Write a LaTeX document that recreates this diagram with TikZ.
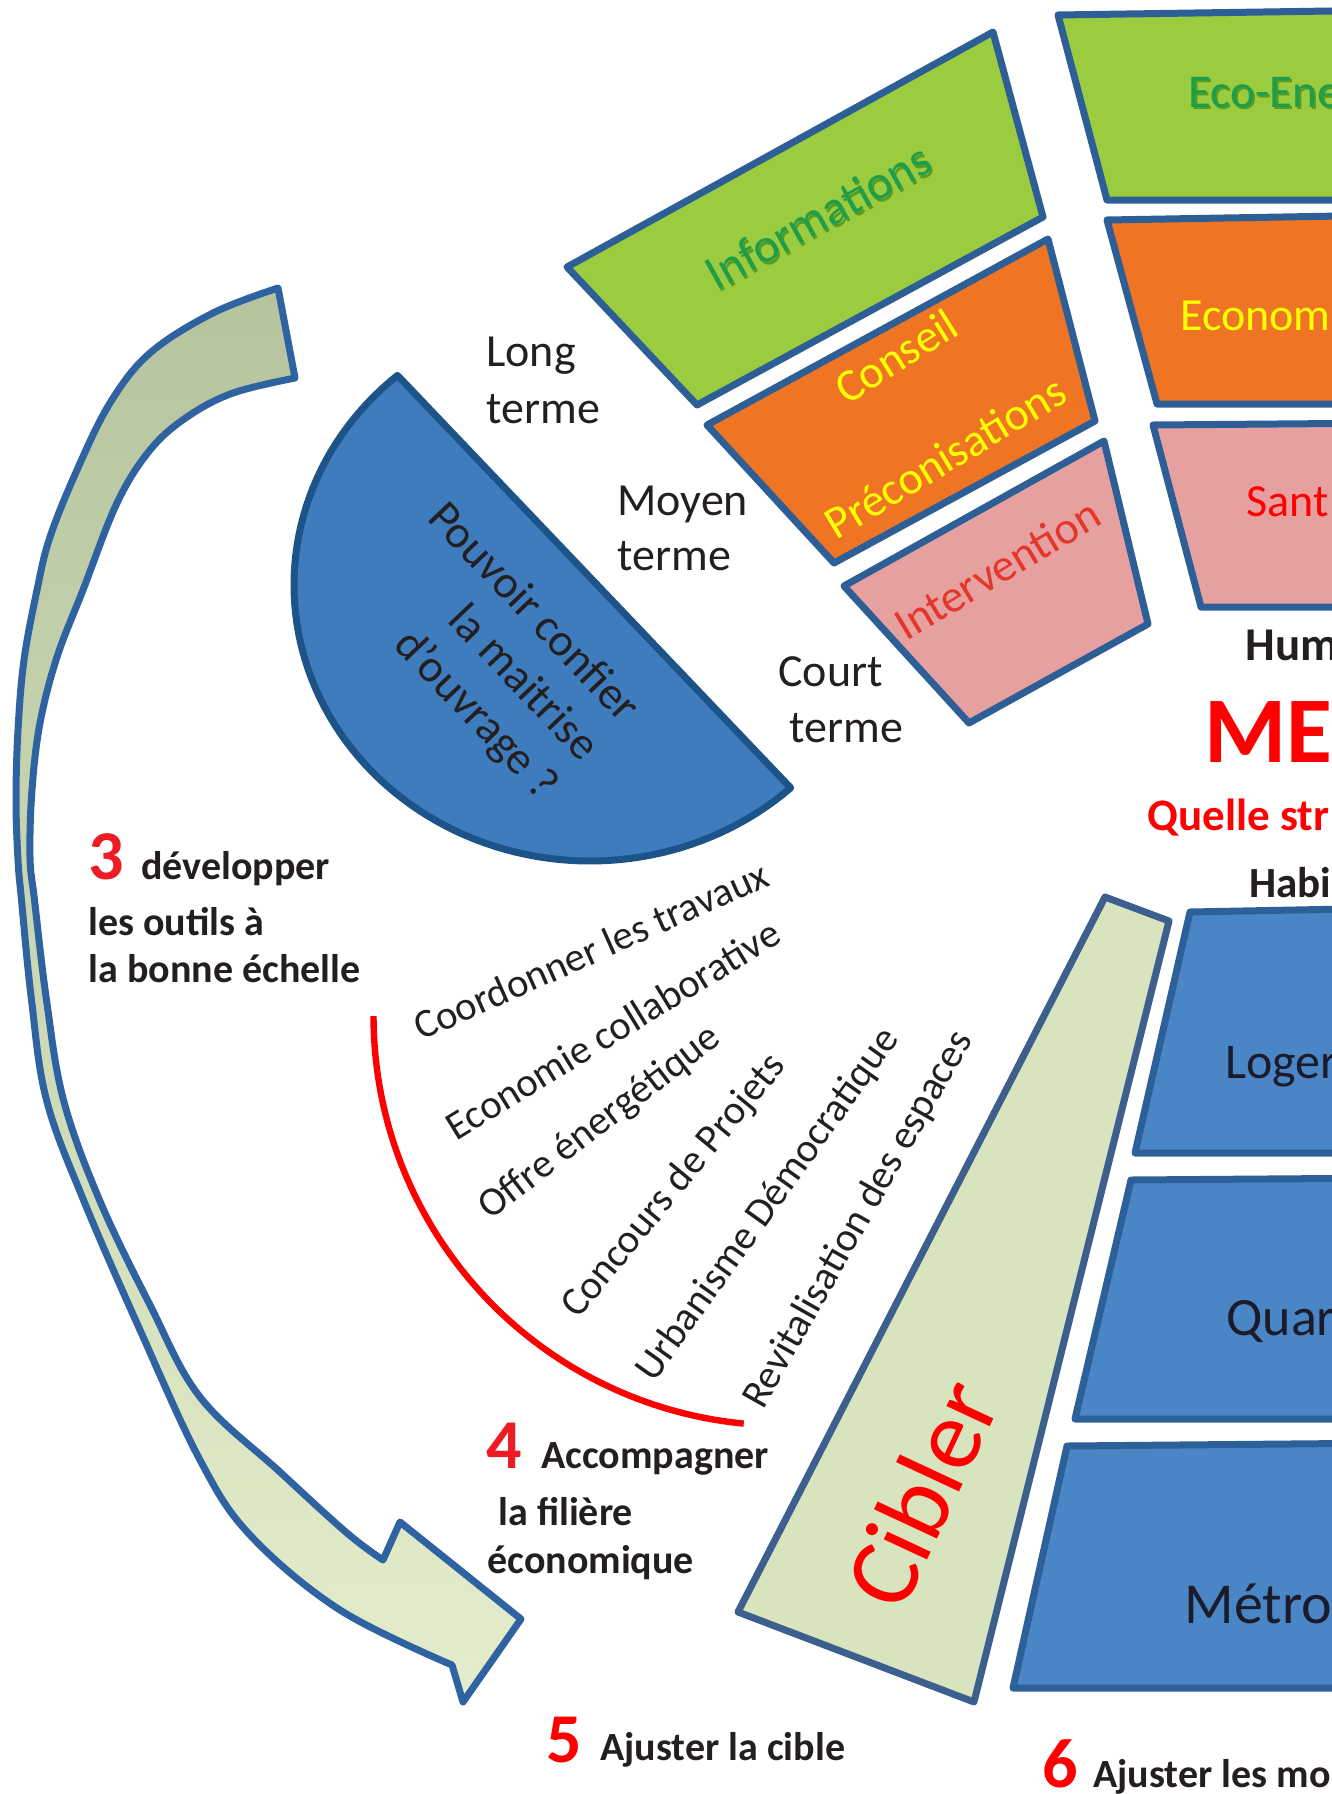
\documentclass[tikz,border=0pt]{standalone}
\usepackage{fontspec}
\setmainfont{Carlito}
\definecolor{bordblue}{RGB}{46,94,150}
\definecolor{limeF}{RGB}{155,203,63}
\definecolor{orangeF}{RGB}{239,116,35}
\definecolor{pinkF}{RGB}{230,160,159}
\definecolor{boxblue}{RGB}{74,134,198}
\definecolor{boxbord}{RGB}{45,96,152}
\definecolor{semiF}{RGB}{63,124,190}
\definecolor{semiB}{RGB}{28,83,137}
\definecolor{ciblerF}{RGB}{216,228,189}
\definecolor{ciblerB}{RGB}{61,95,142}
\definecolor{arrowtop}{RGB}{181,196,159}
\definecolor{arrowbot}{RGB}{228,237,203}
\definecolor{arrowB}{RGB}{47,98,160}
\definecolor{greenT}{RGB}{30,158,74}
\definecolor{yellowT}{RGB}{255,255,0}
\definecolor{redT}{RGB}{255,0,0}
\definecolor{intervT}{RGB}{229,54,44}
\definecolor{digitred}{RGB}{237,28,36}
\definecolor{darkT}{RGB}{35,31,32}
\definecolor{boxT}{RGB}{27,27,43}
\newcommand{\fsz}[2]{\fontsize{#1}{#2}\selectfont}
\tikzset{
  trap/.style={draw=bordblue, line width=3.5pt, line join=round},
  bluebox/.style={draw=boxbord, fill=boxblue, line width=3.5pt, line join=round},
  lbl/.style={inner sep=0pt, anchor=base west, text=darkT},
  rlbl/.style={inner sep=0pt, text=darkT},
  termfont/.style={font=\fsz{23pt}{28pt}},
  fanfont/.style={font=\fsz{20.3pt}{24pt}},
  boldlbl/.style={font=\bfseries\fsz{20pt}{24pt}},
  digit/.style={inner sep=0pt, anchor=base west, text=digitred, font=\bfseries\fsz{35pt}{40pt}},
}
\begin{document}
\begin{tikzpicture}[x=0.5pt,y=-0.5pt]
\useasboundingbox (0,0) rectangle (1332,1794);
\clip (0,0) rectangle (1332,1794);

% big curved arrow
\draw[draw=arrowB, line width=3.5pt, line join=round, top color=arrowtop, bottom color=arrowbot]
  plot[smooth, tension=0.6] coordinates {(278,288) (213,313) (150,353) (110,403) (77,470) (50,537) (37,590) (24,660) (18,730) (16,800) (18,860) (21.5,900) (31.5,1000) (46.5,1100) (83.5,1200) (140,1330) (200,1460) (250,1535) (340,1610) (452,1665)}
  -- (463,1702) -- (521,1619) -- (400,1522) -- (383,1560)
  -- plot[smooth, tension=0.6] coordinates {(383,1560) (347,1533) (280,1472) (200,1397) (150,1305) (99.5,1200) (63.5,1100) (46.5,1000) (34.5,900) (30,857) (32,790) (40,723) (57,657) (83,590) (117,503) (150,450) (187,417) (233,393) (295,378)}
  -- cycle;

% left trapezoids
\draw[trap, fill=limeF] (567,267) -- (993,32) -- (1043,217) -- (697,405) -- cycle;
\draw[trap, fill=orangeF] (707,425) -- (1048,239) -- (1095,421) -- (834,563) -- cycle;
\draw[trap, fill=pinkF] (844,586) -- (1104,441) -- (1148,624) -- (969,723) -- cycle;

% right trapezoids
\draw[trap, fill=limeF] (1058,15) -- (1400,10) -- (1400,200) -- (1107,200) -- cycle;
\draw[trap, fill=orangeF] (1107,220) -- (1400,215) -- (1400,404) -- (1157,404) -- cycle;
\draw[trap, fill=pinkF] (1153,425) -- (1400,423) -- (1400,607) -- (1201,607) -- cycle;

% blue boxes
\draw[bluebox] (1190,912) -- (1400,908) -- (1400,1153) -- (1135,1153) -- cycle;
\draw[bluebox] (1131,1180) -- (1400,1178) -- (1400,1419) -- (1075,1419) -- cycle;
\draw[bluebox] (1067,1446) -- (1400,1443) -- (1400,1688) -- (1013,1688) -- cycle;

% Cibler wedge
\draw[draw=ciblerB, fill=ciblerF, line width=3.5pt, line join=round] (1105,897) -- (1169,921) -- (974,1702) -- (738,1612) -- cycle;

% half disc
\draw[draw=semiB, fill=semiF, line width=3.5pt, line join=round] (400,378) -- (787,784)
  -- plot[domain=47.3:229.4, samples=90] ({590+296*cos(\x)}, {585+276*sin(\x)}) -- cycle;

% red arc
\draw[redT, line width=3.2pt] plot[domain=180:95.5, samples=80] ({783+409.5*cos(\x)}, {1016+409.5*sin(\x)});

% texts in trapezoids
\node[rlbl, rotate=29, text=black!60!green, opacity=0.45, font=\fsz{24pt}{28pt}] (infoshadow) at (820,219) {Informations};
\node[rlbl, rotate=29, text=greenT, font=\fsz{24pt}{28pt}] (info) at (818,216) {Informations};
\node[rlbl, rotate=32, text=yellowT, font=\fsz{23pt}{28pt}] (conseil) at (896,356) {Conseil};
\node[rlbl, rotate=31, text=yellowT, font=\fsz{23pt}{28pt}] (precon) at (945,457) {Préconisations};
\node[rlbl, rotate=31, text=intervT, font=\fsz{23pt}{28pt}] (interv) at (997,569) {Intervention};

\node[lbl, text=black!60!green, opacity=0.45, font=\fsz{23.5pt}{28pt}] (ecoshadow) at (1190,109) {Eco-Ene};
\node[lbl, text=greenT, font=\fsz{23.5pt}{28pt}] (eco) at (1188,107) {Eco-Ene};
\node[lbl, text=yellowT, font=\fsz{23pt}{28pt}] (econom) at (1180,330) {Econom};
\node[lbl, text=redT, font=\fsz{23pt}{28pt}] (sante) at (1246,516) {Sant};

% centre texts (right)
\node[lbl, font=\bfseries\fsz{23.5pt}{28pt}] (hum) at (1245,660) {Hum};
\node[lbl, text=redT, font=\bfseries\fsz{47pt}{52pt}] (me) at (1204,762) {ME};
\node[lbl, text=redT, font=\bfseries\fsz{22.5pt}{27pt}] (quelle) at (1147,830) {Quelle str};
\node[lbl, font=\bfseries\fsz{21.5pt}{26pt}] (habi) at (1249,897) {Habi};

\node[lbl, text=boxT, font=\fsz{25pt}{30pt}] (loger) at (1225,1078) {Loger};
\node[lbl, text=boxT, font=\fsz{27pt}{32pt}] (quar) at (1226,1335) {Quar};
\node[lbl, text=boxT, font=\fsz{29pt}{34pt}] (metro) at (1184,1623) {Métro};

% terms
\node[lbl, termfont] (long1) at (486,366) {Long};
\node[lbl, termfont] (long2) at (486,423) {terme};
\node[lbl, termfont] (moy1) at (617,515) {Moyen};
\node[lbl, termfont] (moy2) at (617,570) {terme};
\node[lbl, termfont] (court1) at (778,686) {Court};
\node[lbl, termfont] (court2) at (789,742) {terme};

% half disc text
\node[rlbl, rotate=-46.4, align=right, font=\fsz{23pt}{28pt}] (pouvoir) at (492,652) {Pouvoir confier\\la maitrise\\d’ouvrage ?};

% fan texts
\node[lbl, fanfont, rotate=24] (f1) at (421,1041) {Coordonner les travaux};
\node[lbl, fanfont, rotate=31.5] (f2) at (456,1142) {Economie collaborative};
\node[lbl, fanfont, rotate=37.5] (f3) at (490,1221) {Offre énergétique};
\node[lbl, fanfont, rotate=50.5] (f4) at (578,1320) {Concours de Projets};
\node[lbl, fanfont, rotate=54.5] (f5) at (654,1384) {Urbanisme Démocratique};
\node[lbl, fanfont, rotate=60.5] (f6) at (763,1411) {Revitalisation des espaces};

% Cibler
\node[rlbl, rotate=65, text=redT, font=\fsz{50pt}{60pt}] (cibler) at (921,1493) {Cibler};

% numbered labels
\node[digit] (n3) at (88,879) {3};
\node[lbl, boldlbl] (t3a) at (141,879) {développer};
\node[lbl, boldlbl] (t3b) at (88,935) {les outils à};
\node[lbl, boldlbl] (t3c) at (88,982) {la bonne échelle};

\node[digit] (n4) at (486,1468) {4};
\node[lbl, boldlbl] (t4a) at (541,1468) {Accompagner};
\node[lbl, boldlbl] (t4b) at (498,1525) {la filière};
\node[lbl, boldlbl] (t4c) at (487,1573) {économique};

\node[digit, text=redT] (n5) at (546,1762) {5};
\node[lbl, boldlbl] (t5) at (600,1760) {Ajuster la cible};

\node[digit, text=redT] (n6) at (1042,1787) {6};
\node[lbl, boldlbl] (t6) at (1093,1787) {Ajuster les mo};
\end{tikzpicture}
\end{document}
